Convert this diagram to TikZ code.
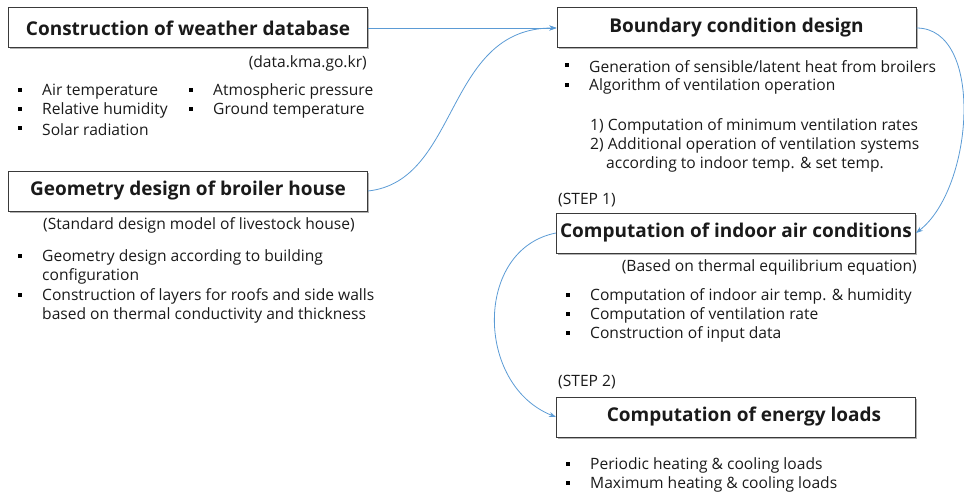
\documentclass[tikz,border=0pt]{standalone}
\usepackage{fontspec}
\setmainfont{Open Sans}
\usetikzlibrary{shadows,arrows.meta}
\definecolor{arrowblue}{HTML}{5B9BD5}
\definecolor{boxline}{HTML}{3A3A3A}
\definecolor{txtcol}{HTML}{1A1A1A}
\begin{document}
\begin{tikzpicture}[x=1pt,y=-1pt,
  titlebox/.style={draw=boxline, line width=1pt, fill=white, minimum width=359pt, minimum height=40pt,
    inner sep=0pt, text=txtcol, font=\fontsize{19}{22}\selectfont\bfseries,
    drop shadow={shadow xshift=1.5pt, shadow yshift=-1.5pt, fill=black, opacity=0.3}},
  txt/.style={anchor=west, inner sep=0pt, yshift=-1.5pt, text=txtcol, font=\fontsize{15.6}{19}\selectfont},
  rtxt/.style={txt, anchor=east},
  bul/.style={fill=black, inner sep=0pt, minimum size=4.5pt},
  conn/.style={draw=arrowblue, line width=0.8pt, -{Stealth[length=7pt,width=5pt]}}
]
\useasboundingbox (0,0) rectangle (964,495);

% boxes
\node[titlebox] (wdb) at (188,28) {Construction of weather database};
\node[titlebox] (geo) at (188,191) {Geometry design of broiler house};
\node[titlebox] (bcd) at (736.5,28) {Boundary condition design};
\node[titlebox] (iac) at (736,233) {Computation of indoor air conditions};
\node[titlebox] (enl) at (736,417) {\hspace*{16pt}Computation of energy loads};

% weather database
\node[rtxt] (kma) at (367,62) {(data.kma.go.kr)};
\node[bul] (b1) at (20,90) {};
\node[txt] (t1) at (42,90) {Air temperature};
\node[bul] (b2) at (20,109) {};
\node[txt] (t2) at (42,109) {Relative humidity};
\node[bul] (b3) at (20,128) {};
\node[txt] (t3) at (42,128) {Solar radiation};
\node[bul] (b4) at (191,90) {};
\node[txt] (t4) at (213,90) {Atmospheric pressure};
\node[bul] (b5) at (191,109) {};
\node[txt] (t5) at (213,109) {Ground temperature};

% geometry
\node[txt] (std) at (43,224) {(Standard design model of livestock house)};
\node[bul] (g1b) at (20,256) {};
\node[txt] (g1a) at (42,256) {Geometry design according to building};
\node[txt] (g1c) at (42,275) {configuration};
\node[bul] (g2b) at (20,295) {};
\node[txt] (g2a) at (42,295) {Construction of layers for roofs and side walls};
\node[txt] (g2c) at (42,314) {based on thermal conductivity and thickness};

% boundary condition
\node[bul] (c1b) at (567,65) {};
\node[txt] (c1) at (589,65) {Generation of sensible/latent heat from broilers};
\node[bul] (c2b) at (567,85) {};
\node[txt] (c2) at (589,85) {Algorithm of ventilation operation};
\node[txt] (c3) at (590,125) {1) Computation of minimum ventilation rates};
\node[txt] (c4) at (590,144) {2) Additional operation of ventilation systems};
\node[txt] (c5) at (606,163) {according to indoor temp. \& set temp.};

% step 1
\node[txt] (s1) at (558,199) {(STEP 1)};
\node[rtxt] (thq) at (917,266) {(Based on thermal equilibrium equation)};
\node[bul] (i1b) at (568,295) {};
\node[txt] (i1) at (590,295) {Computation of indoor air temp. \& humidity};
\node[bul] (i2b) at (568,314) {};
\node[txt] (i2) at (590,314) {Computation of ventilation rate};
\node[bul] (i3b) at (568,333) {};
\node[txt] (i3) at (590,333) {Construction of input data};

% step 2
\node[txt] (s2) at (558,381) {(STEP 2)};
\node[bul] (e1b) at (568,464) {};
\node[txt] (e1) at (590,464) {Periodic heating \& cooling loads};
\node[bul] (e2b) at (568,483) {};
\node[txt] (e2) at (590,483) {Maximum heating \& cooling loads};

% connectors
\draw[conn] (wdb.east) -- (bcd.west);
\draw[conn] (geo.east) .. controls +(92,-10) and +(-112,0) .. (bcd.west);
\draw[conn] (bcd.east) .. controls +(68,0) and +(58,-45) .. (iac.east);
\draw[conn] (iac.west) .. controls +(-82,16) and +(-81,-32) .. (enl.west);
\end{tikzpicture}
\end{document}
